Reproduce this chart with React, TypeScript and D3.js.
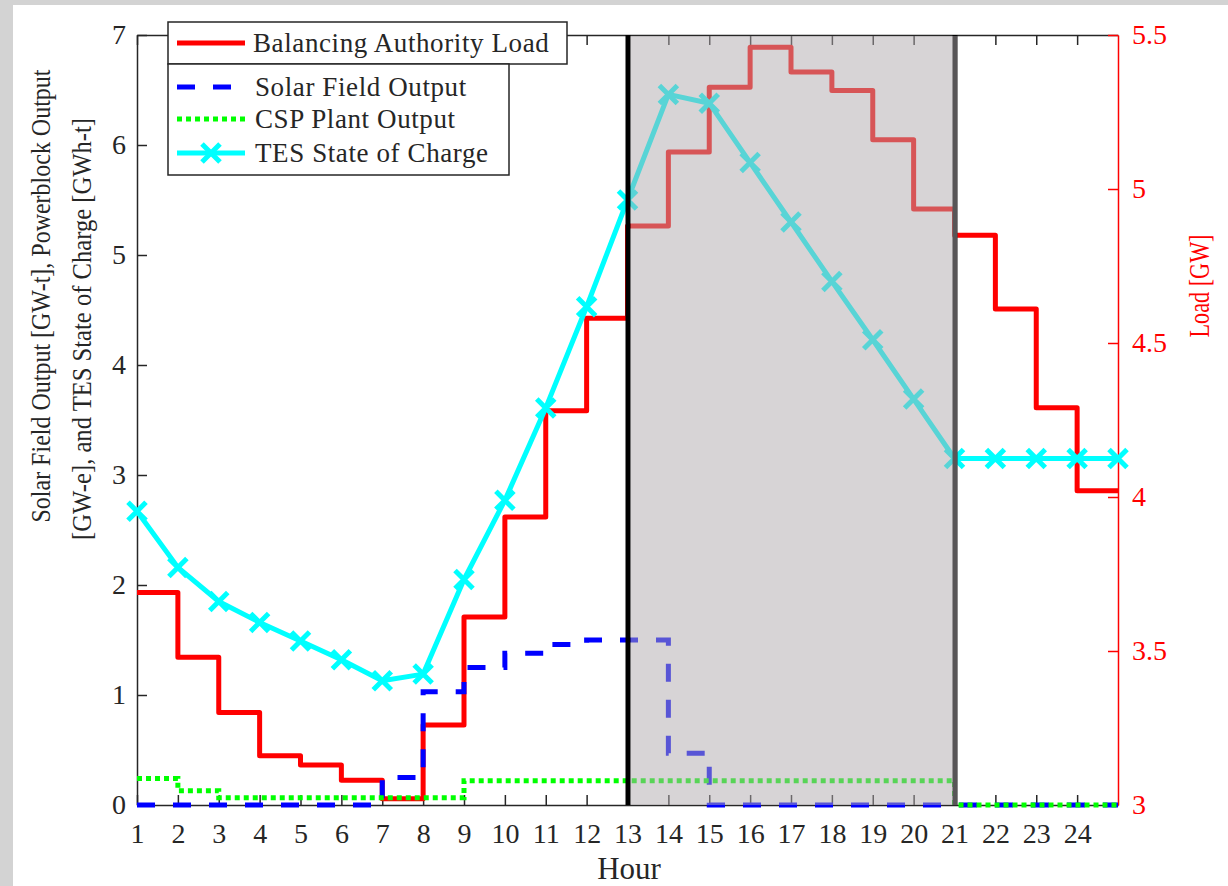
import { useEffect, useRef } from "react"
import * as d3 from "d3"

// hours of the day (step series hold their value from h to h+1)
const hours = [1, 2, 3, 4, 5, 6, 7, 8, 9, 10, 11, 12, 13, 14, 15, 16, 17, 18, 19, 20, 21, 22, 23, 24]
const tesHours = [1, 2, 3, 4, 5, 6, 7, 8, 9, 10, 11, 12, 13, 14, 15, 16, 17, 18, 19, 20, 21, 22, 23, 24, 25]

// Balancing Authority Load [GW] (right axis)
const baLoad = [3.69, 3.48, 3.3, 3.16, 3.13, 3.08, 3.02, 3.26, 3.61, 3.935, 4.28, 4.58,
  4.88, 5.12, 5.33, 5.46, 5.38, 5.32, 5.16, 4.935, 4.85, 4.61, 4.29, 4.02]
// Solar Field Output [GW-t]
const solarField = [0, 0, 0, 0, 0, 0, 0.25, 1.03, 1.25, 1.38, 1.46, 1.5,
  1.5, 0.47, 0, 0, 0, 0, 0, 0, 0, 0, 0, 0]
// CSP Plant Output [GW-e]
const cspPlant = [0.24, 0.13, 0.065, 0.065, 0.065, 0.065, 0.065, 0.065, 0.22, 0.22, 0.22, 0.22,
  0.22, 0.22, 0.22, 0.22, 0.22, 0.22, 0.22, 0.22, 0, 0, 0, 0]
// TES State of Charge [GWh-t]
const tesCharge = [2.67, 2.16, 1.85, 1.66, 1.49, 1.32, 1.13, 1.19, 2.05, 2.77, 3.61, 4.53, 5.5,
  6.46, 6.38, 5.84, 5.3, 4.76, 4.23, 3.69, 3.15, 3.15, 3.15, 3.15, 3.15]

const leftTicks = [0, 1, 2, 3, 4, 5, 6, 7]
const rightTicks = [3, 3.5, 4, 4.5, 5, 5.5]
const shadeFrom = 13
const shadeTo = 21

const legendItems = [
  { label: "Balancing Authority Load", color: "#ff0000", dash: null, marker: false },
  { label: "Solar Field Output", color: "#0000ff", dash: "18,18", marker: false },
  { label: "CSP Plant Output", color: "#00ff00", dash: "5,4", marker: false },
  { label: "TES State of Charge", color: "#00ffff", dash: null, marker: true },
]

const App = () => {
  const ref = useRef<SVGSVGElement>(null)

  useEffect(() => {
    const svg = d3.select(ref.current)
    svg.selectAll("*").remove()

    const font = "'Liberation Serif', 'Times New Roman', serif"
    const axisColor = "#262626"

    const x = d3.scaleLinear().domain([1, 25]).range([137, 1118])
    const yL = d3.scaleLinear().domain([0, 7]).range([805, 35])
    const yR = d3.scaleLinear().domain([3, 5.5]).range([805, 35])

    // page frame
    svg.append("rect").attr("width", 1228).attr("height", 886).attr("fill", "#d3d3d3")
    svg.append("rect").attr("x", 13).attr("y", 5).attr("width", 1215).attr("height", 881).attr("fill", "#fff")

    // axes
    const styleAxis = (g, color) => {
      g.selectAll("path.domain").attr("stroke", color).attr("stroke-width", 1.5)
      g.selectAll(".tick line").attr("stroke", color).attr("stroke-width", 1.5)
      g.selectAll(".tick text").attr("fill", color).attr("font-family", font).attr("font-size", 28)
    }
    const gx = svg.append("g").attr("transform", "translate(0,805)")
      .call(d3.axisBottom(x).tickValues(hours).tickSizeInner(-10).tickSizeOuter(0).tickPadding(18))
    styleAxis(gx, axisColor)
    const gt = svg.append("g").attr("transform", "translate(0,35)")
      .call(d3.axisTop(x).tickValues(hours).tickSizeInner(-10).tickSizeOuter(0).tickFormat(() => ""))
    styleAxis(gt, axisColor)
    const gl = svg.append("g").attr("transform", "translate(137,0)")
      .call(d3.axisLeft(yL).tickValues(leftTicks).tickSizeInner(-10).tickSizeOuter(0).tickPadding(11)
        .tickFormat(d => String(d)))
    styleAxis(gl, axisColor)
    const gr = svg.append("g").attr("transform", "translate(1118,0)")
      .call(d3.axisRight(yR).tickValues(rightTicks).tickSizeInner(-10).tickSizeOuter(0).tickPadding(14)
        .tickFormat(d => String(d)))
    styleAxis(gr, "#ff0000")

    // series
    const withEnd = (v) => hours.map((h, i) => [h, v[i]]).concat([[25, v[v.length - 1]]])
    const stepLine = (ys) => d3.line().curve(d3.curveStepAfter).x(d => x(d[0])).y(d => ys(d[1]))

    svg.append("path").attr("d", stepLine(yR)(withEnd(baLoad)))
      .attr("fill", "none").attr("stroke", "#ff0000").attr("stroke-width", 5).attr("stroke-linejoin", "round")
    svg.append("path").attr("d", stepLine(yL)(withEnd(solarField)))
      .attr("fill", "none").attr("stroke", "#0000ff").attr("stroke-width", 5).attr("stroke-dasharray", "18,18")
    svg.append("path").attr("d", stepLine(yL)(withEnd(cspPlant)))
      .attr("fill", "none").attr("stroke", "#00ff00").attr("stroke-width", 5).attr("stroke-dasharray", "5,4")

    const tesPts = tesHours.map((h, i) => [h, tesCharge[i]])
    const tesLine = d3.line().x(d => x(d[0])).y(d => yL(d[1]))
    svg.append("path").attr("d", tesLine(tesPts))
      .attr("fill", "none").attr("stroke", "#00ffff").attr("stroke-width", 5).attr("stroke-linejoin", "round")
    const xMark = "M-9,-9L9,9M-9,9L9,-9"
    svg.append("g").selectAll("path").data(tesPts).join("path")
      .attr("transform", d => `translate(${x(d[0])},${yL(d[1])})`)
      .attr("d", xMark).attr("fill", "none").attr("stroke", "#00ffff").attr("stroke-width", 5)

    // peak window
    svg.append("line").attr("x1", x(shadeTo) + 0.5).attr("x2", x(shadeTo) + 0.5).attr("y1", 35).attr("y2", 805)
      .attr("stroke", "#000").attr("stroke-width", 5)
    svg.append("rect").attr("x", x(shadeFrom) + 3).attr("y", 36)
      .attr("width", x(shadeTo) - x(shadeFrom)).attr("height", 769)
      .attr("fill", "rgb(176,170,174)").attr("opacity", 0.5)
    svg.append("line").attr("x1", x(shadeFrom) + 0.5).attr("x2", x(shadeFrom) + 0.5).attr("y1", 35).attr("y2", 805)
      .attr("stroke", "#000").attr("stroke-width", 5)

    // axis labels
    svg.append("text").attr("x", 629).attr("y", 879).attr("text-anchor", "middle")
      .attr("font-family", font).attr("font-size", 31).attr("fill", axisColor).text("Hour")
    svg.append("text").attr("transform", "translate(50,296) rotate(-90)").attr("text-anchor", "middle")
      .attr("font-family", font).attr("font-size", 27).attr("fill", axisColor)
      .attr("textLength", 453).attr("lengthAdjust", "spacingAndGlyphs")
      .text("Solar Field Output [GW-t], Powerblock Output")
    svg.append("text").attr("transform", "translate(91,329) rotate(-90)").attr("text-anchor", "middle")
      .attr("font-family", font).attr("font-size", 28).attr("fill", axisColor)
      .attr("textLength", 422).attr("lengthAdjust", "spacingAndGlyphs")
      .text("[GW-e], and TES State of Charge [GWh-t]")
    svg.append("text").attr("transform", "translate(1209,286) rotate(-90)").attr("text-anchor", "middle")
      .attr("font-family", font).attr("font-size", 30).attr("fill", "#ff0000")
      .attr("textLength", 103).attr("lengthAdjust", "spacingAndGlyphs").text("Load [GW]")

    // legend
    const lg = svg.append("g")
    lg.append("rect").attr("x", 168).attr("y", 22).attr("width", 399).attr("height", 42)
      .attr("fill", "#fff").attr("stroke", axisColor).attr("stroke-width", 1.5)
    lg.append("rect").attr("x", 168).attr("y", 64).attr("width", 341).attr("height", 111)
      .attr("fill", "#fff").attr("stroke", axisColor).attr("stroke-width", 1.5)
    const rowY = [43, 87, 119, 153]
    legendItems.forEach((it, i) => {
      const y = rowY[i]
      const ln = lg.append("line").attr("x1", 177).attr("x2", 245).attr("y1", y).attr("y2", y)
        .attr("stroke", it.color).attr("stroke-width", 5)
      if (it.dash) ln.attr("stroke-dasharray", it.dash)
      if (it.marker) {
        lg.append("path").attr("transform", `translate(211,${y})`).attr("d", xMark)
          .attr("fill", "none").attr("stroke", it.color).attr("stroke-width", 5)
      }
      lg.append("text").attr("x", i === 0 ? 253 : 255).attr("y", y + 9)
        .attr("font-family", font).attr("font-size", 27).attr("letter-spacing", 0.6)
        .attr("fill", axisColor).text(it.label)
    })
  }, [])

  return <svg ref={ref} width={1228} height={886} style={{ position: "absolute", left: 0, top: 0 }} />
}

export default App
